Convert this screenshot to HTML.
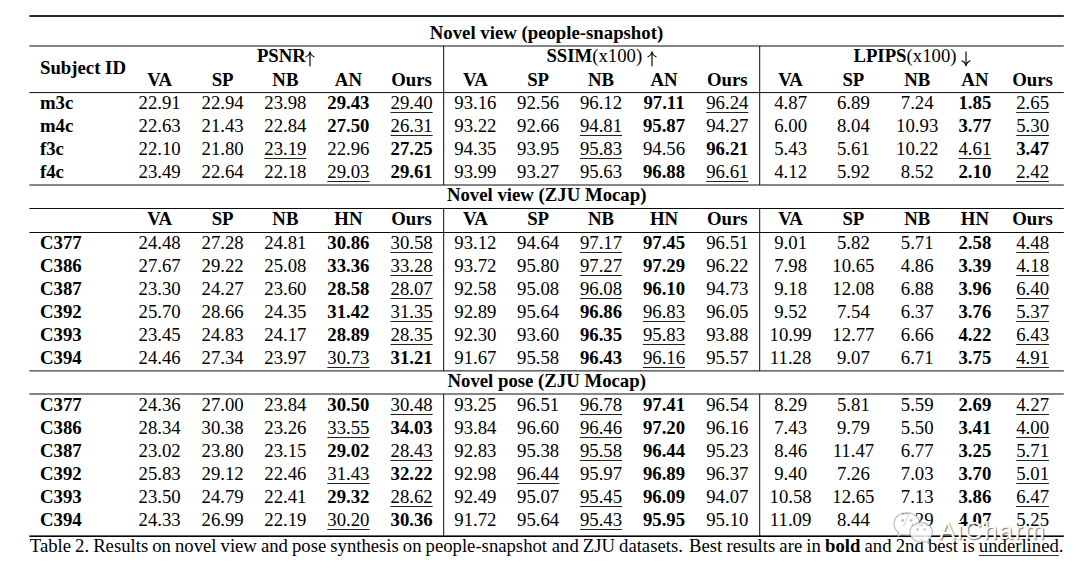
<!DOCTYPE html>
<html><head><meta charset="utf-8"><title>Table 2</title>
<style>
html,body{margin:0;padding:0;background:#fff;}
body{width:1080px;height:575px;position:relative;overflow:hidden;font-family:"Liberation Serif",serif;font-size:18.75px;line-height:23px;color:#000;}
.c{position:absolute;width:400px;text-align:center;white-space:nowrap;height:23px;}
.l{position:absolute;white-space:nowrap;height:23px;}
.b{font-weight:bold;}
.n{font-weight:normal;}
.u{text-decoration:underline;text-decoration-thickness:1.15px;text-underline-offset:2.9px;text-decoration-skip-ink:none;text-decoration-color:#222;}
.u2{text-decoration:underline;text-decoration-thickness:1.3px;text-underline-offset:2.7px;text-decoration-skip-ink:none;text-decoration-color:#333;}
.cap{font-size:18.7px;word-spacing:-0.62px;}
.h{position:absolute;background:#222;}
.a{position:absolute;overflow:visible;}
.rules{position:absolute;left:0;top:0;}
.wm{position:absolute;left:892px;top:510px;width:170px;height:38px;opacity:0.96;}
.wmi{position:absolute;left:0;top:0;}
.wmt{position:absolute;left:47px;top:6.3px;font-family:"Liberation Sans",sans-serif;font-size:24.6px;line-height:30px;color:#fff;text-shadow:1px 1px 1.2px rgba(40,40,40,0.7);letter-spacing:1.7px;}
</style></head><body>
<svg class="rules" width="1080" height="575" viewBox="0 0 1080 575" fill="#000"><rect x="29.4" y="15.18" width="1034.40" height="1.65"/><rect x="29.4" y="45.52" width="1034.40" height="0.95"/><rect x="29.4" y="92.12" width="1034.40" height="0.95"/><rect x="29.4" y="184.53" width="1034.40" height="0.95"/><rect x="29.4" y="208.03" width="1034.40" height="0.95"/><rect x="29.4" y="232.03" width="1034.40" height="0.95"/><rect x="29.4" y="370.42" width="1034.40" height="0.95"/><rect x="29.4" y="393.52" width="1034.40" height="0.95"/><rect x="29.4" y="535.40" width="1034.40" height="1.6"/><rect x="443.22" y="46.0" width="0.95" height="139.00"/><rect x="443.22" y="208.5" width="0.95" height="162.40"/><rect x="443.22" y="394.0" width="0.95" height="142.20"/><rect x="759.23" y="46.0" width="0.95" height="139.00"/><rect x="759.23" y="208.5" width="0.95" height="162.40"/><rect x="759.23" y="394.0" width="0.95" height="142.20"/></svg>
<div class="c b" style="left:346.50px;top:21px">Novel view (people-snapshot)</div>
<div class="c b" style="left:346.70px;top:183px">Novel view (ZJU Mocap)</div>
<div class="c b" style="left:346.70px;top:369px">Novel pose (ZJU Mocap)</div>
<div class="l b" style="left:40.00px;top:56px;">Subject ID</div>
<div class="l b" style="left:256.90px;top:44px;">PSNR</div>
<svg class="a" style="left:304.30px;top:51.60px" width="12" height="14.70" viewBox="0 0 12 14.70"><path d="M6.0 0.4 V14.299999999999995" stroke="#000" stroke-width="1.15" fill="none"/><path d="M2.0 4.8 Q5.1 3.4 6.0 0.3 Q6.9 3.4 10.0 4.8" stroke="#000" stroke-width="1.15" fill="none" stroke-linecap="round"/></svg>
<div class="l b" style="left:546.40px;top:44px;">SSIM<span class="n">(x100)</span></div>
<svg class="a" style="left:645.50px;top:51.60px" width="12" height="14.70" viewBox="0 0 12 14.70"><path d="M6.0 0.4 V14.299999999999995" stroke="#000" stroke-width="1.15" fill="none"/><path d="M2.0 4.8 Q5.1 3.4 6.0 0.3 Q6.9 3.4 10.0 4.8" stroke="#000" stroke-width="1.15" fill="none" stroke-linecap="round"/></svg>
<div class="l b" style="left:853.40px;top:44px;">LPIPS<span class="n">(x100)</span></div>
<svg class="a" style="left:960.00px;top:51.30px" width="12" height="14.60" viewBox="0 0 12 14.60"><path d="M6.0 0.4 V14.200000000000008" stroke="#000" stroke-width="1.15" fill="none"/><path d="M2.0 9.800000000000008 Q5.1 11.200000000000008 6.0 14.300000000000008 Q6.9 11.200000000000008 10.0 9.800000000000008" stroke="#000" stroke-width="1.15" fill="none" stroke-linecap="round"/></svg>
<div class="c b" style="left:-40.40px;top:68px">VA</div>
<div class="c b" style="left:22.60px;top:68px">SP</div>
<div class="c b" style="left:85.40px;top:68px">NB</div>
<div class="c b" style="left:148.40px;top:68px">AN</div>
<div class="c b" style="left:211.60px;top:68px">Ours</div>
<div class="c b" style="left:275.40px;top:68px">VA</div>
<div class="c b" style="left:338.10px;top:68px">SP</div>
<div class="c b" style="left:401.00px;top:68px">NB</div>
<div class="c b" style="left:464.00px;top:68px">AN</div>
<div class="c b" style="left:527.30px;top:68px">Ours</div>
<div class="c b" style="left:590.60px;top:68px">VA</div>
<div class="c b" style="left:653.40px;top:68px">SP</div>
<div class="c b" style="left:717.20px;top:68px">NB</div>
<div class="c b" style="left:774.90px;top:68px">AN</div>
<div class="c b" style="left:832.60px;top:68px">Ours</div>
<div class="c b" style="left:-40.40px;top:207px">VA</div>
<div class="c b" style="left:22.60px;top:207px">SP</div>
<div class="c b" style="left:85.40px;top:207px">NB</div>
<div class="c b" style="left:148.40px;top:207px">HN</div>
<div class="c b" style="left:211.60px;top:207px">Ours</div>
<div class="c b" style="left:275.40px;top:207px">VA</div>
<div class="c b" style="left:338.10px;top:207px">SP</div>
<div class="c b" style="left:401.00px;top:207px">NB</div>
<div class="c b" style="left:464.00px;top:207px">HN</div>
<div class="c b" style="left:527.30px;top:207px">Ours</div>
<div class="c b" style="left:590.60px;top:207px">VA</div>
<div class="c b" style="left:653.40px;top:207px">SP</div>
<div class="c b" style="left:717.20px;top:207px">NB</div>
<div class="c b" style="left:774.90px;top:207px">HN</div>
<div class="c b" style="left:832.60px;top:207px">Ours</div>
<div class="l b" style="left:40.00px;top:91px;">m3c</div>
<div class="c " style="left:-40.40px;top:91px">22.91</div>
<div class="c " style="left:22.60px;top:91px">22.94</div>
<div class="c " style="left:85.40px;top:91px">23.98</div>
<div class="c b" style="left:148.40px;top:91px">29.43</div>
<div class="c " style="left:211.60px;top:91px"><span class="u">29.40</span></div>
<div class="c " style="left:275.40px;top:91px">93.16</div>
<div class="c " style="left:338.10px;top:91px">92.56</div>
<div class="c " style="left:401.00px;top:91px">96.12</div>
<div class="c b" style="left:464.00px;top:91px">97.11</div>
<div class="c " style="left:527.30px;top:91px"><span class="u">96.24</span></div>
<div class="c " style="left:590.60px;top:91px">4.87</div>
<div class="c " style="left:653.40px;top:91px">6.89</div>
<div class="c " style="left:717.20px;top:91px">7.24</div>
<div class="c b" style="left:774.90px;top:91px">1.85</div>
<div class="c " style="left:832.60px;top:91px"><span class="u">2.65</span></div>
<div class="l b" style="left:40.00px;top:114px;">m4c</div>
<div class="c " style="left:-40.40px;top:114px">22.63</div>
<div class="c " style="left:22.60px;top:114px">21.43</div>
<div class="c " style="left:85.40px;top:114px">22.84</div>
<div class="c b" style="left:148.40px;top:114px">27.50</div>
<div class="c " style="left:211.60px;top:114px"><span class="u">26.31</span></div>
<div class="c " style="left:275.40px;top:114px">93.22</div>
<div class="c " style="left:338.10px;top:114px">92.66</div>
<div class="c " style="left:401.00px;top:114px"><span class="u">94.81</span></div>
<div class="c b" style="left:464.00px;top:114px">95.87</div>
<div class="c " style="left:527.30px;top:114px">94.27</div>
<div class="c " style="left:590.60px;top:114px">6.00</div>
<div class="c " style="left:653.40px;top:114px">8.04</div>
<div class="c " style="left:717.20px;top:114px">10.93</div>
<div class="c b" style="left:774.90px;top:114px">3.77</div>
<div class="c " style="left:832.60px;top:114px"><span class="u">5.30</span></div>
<div class="l b" style="left:40.00px;top:137px;">f3c</div>
<div class="c " style="left:-40.40px;top:137px">22.10</div>
<div class="c " style="left:22.60px;top:137px">21.80</div>
<div class="c " style="left:85.40px;top:137px"><span class="u">23.19</span></div>
<div class="c " style="left:148.40px;top:137px">22.96</div>
<div class="c b" style="left:211.60px;top:137px">27.25</div>
<div class="c " style="left:275.40px;top:137px">94.35</div>
<div class="c " style="left:338.10px;top:137px">93.95</div>
<div class="c " style="left:401.00px;top:137px"><span class="u">95.83</span></div>
<div class="c " style="left:464.00px;top:137px">94.56</div>
<div class="c b" style="left:527.30px;top:137px">96.21</div>
<div class="c " style="left:590.60px;top:137px">5.43</div>
<div class="c " style="left:653.40px;top:137px">5.61</div>
<div class="c " style="left:717.20px;top:137px">10.22</div>
<div class="c " style="left:774.90px;top:137px"><span class="u">4.61</span></div>
<div class="c b" style="left:832.60px;top:137px">3.47</div>
<div class="l b" style="left:40.00px;top:160px;">f4c</div>
<div class="c " style="left:-40.40px;top:160px">23.49</div>
<div class="c " style="left:22.60px;top:160px">22.64</div>
<div class="c " style="left:85.40px;top:160px">22.18</div>
<div class="c " style="left:148.40px;top:160px"><span class="u">29.03</span></div>
<div class="c b" style="left:211.60px;top:160px">29.61</div>
<div class="c " style="left:275.40px;top:160px">93.99</div>
<div class="c " style="left:338.10px;top:160px">93.27</div>
<div class="c " style="left:401.00px;top:160px">95.63</div>
<div class="c b" style="left:464.00px;top:160px">96.88</div>
<div class="c " style="left:527.30px;top:160px"><span class="u">96.61</span></div>
<div class="c " style="left:590.60px;top:160px">4.12</div>
<div class="c " style="left:653.40px;top:160px">5.92</div>
<div class="c " style="left:717.20px;top:160px">8.52</div>
<div class="c b" style="left:774.90px;top:160px">2.10</div>
<div class="c " style="left:832.60px;top:160px"><span class="u">2.42</span></div>
<div class="l b" style="left:40.00px;top:231px;">C377</div>
<div class="c " style="left:-40.40px;top:231px">24.48</div>
<div class="c " style="left:22.60px;top:231px">27.28</div>
<div class="c " style="left:85.40px;top:231px">24.81</div>
<div class="c b" style="left:148.40px;top:231px">30.86</div>
<div class="c " style="left:211.60px;top:231px"><span class="u">30.58</span></div>
<div class="c " style="left:275.40px;top:231px">93.12</div>
<div class="c " style="left:338.10px;top:231px">94.64</div>
<div class="c " style="left:401.00px;top:231px"><span class="u">97.17</span></div>
<div class="c b" style="left:464.00px;top:231px">97.45</div>
<div class="c " style="left:527.30px;top:231px">96.51</div>
<div class="c " style="left:590.60px;top:231px">9.01</div>
<div class="c " style="left:653.40px;top:231px">5.82</div>
<div class="c " style="left:717.20px;top:231px">5.71</div>
<div class="c b" style="left:774.90px;top:231px">2.58</div>
<div class="c " style="left:832.60px;top:231px"><span class="u">4.48</span></div>
<div class="l b" style="left:40.00px;top:254px;">C386</div>
<div class="c " style="left:-40.40px;top:254px">27.67</div>
<div class="c " style="left:22.60px;top:254px">29.22</div>
<div class="c " style="left:85.40px;top:254px">25.08</div>
<div class="c b" style="left:148.40px;top:254px">33.36</div>
<div class="c " style="left:211.60px;top:254px"><span class="u">33.28</span></div>
<div class="c " style="left:275.40px;top:254px">93.72</div>
<div class="c " style="left:338.10px;top:254px">95.80</div>
<div class="c " style="left:401.00px;top:254px"><span class="u">97.27</span></div>
<div class="c b" style="left:464.00px;top:254px">97.29</div>
<div class="c " style="left:527.30px;top:254px">96.22</div>
<div class="c " style="left:590.60px;top:254px">7.98</div>
<div class="c " style="left:653.40px;top:254px">10.65</div>
<div class="c " style="left:717.20px;top:254px">4.86</div>
<div class="c b" style="left:774.90px;top:254px">3.39</div>
<div class="c " style="left:832.60px;top:254px"><span class="u">4.18</span></div>
<div class="l b" style="left:40.00px;top:277px;">C387</div>
<div class="c " style="left:-40.40px;top:277px">23.30</div>
<div class="c " style="left:22.60px;top:277px">24.27</div>
<div class="c " style="left:85.40px;top:277px">23.60</div>
<div class="c b" style="left:148.40px;top:277px">28.58</div>
<div class="c " style="left:211.60px;top:277px"><span class="u">28.07</span></div>
<div class="c " style="left:275.40px;top:277px">92.58</div>
<div class="c " style="left:338.10px;top:277px">95.08</div>
<div class="c " style="left:401.00px;top:277px"><span class="u">96.08</span></div>
<div class="c b" style="left:464.00px;top:277px">96.10</div>
<div class="c " style="left:527.30px;top:277px">94.73</div>
<div class="c " style="left:590.60px;top:277px">9.18</div>
<div class="c " style="left:653.40px;top:277px">12.08</div>
<div class="c " style="left:717.20px;top:277px">6.88</div>
<div class="c b" style="left:774.90px;top:277px">3.96</div>
<div class="c " style="left:832.60px;top:277px"><span class="u">6.40</span></div>
<div class="l b" style="left:40.00px;top:300px;">C392</div>
<div class="c " style="left:-40.40px;top:300px">25.70</div>
<div class="c " style="left:22.60px;top:300px">28.66</div>
<div class="c " style="left:85.40px;top:300px">24.35</div>
<div class="c b" style="left:148.40px;top:300px">31.42</div>
<div class="c " style="left:211.60px;top:300px"><span class="u">31.35</span></div>
<div class="c " style="left:275.40px;top:300px">92.89</div>
<div class="c " style="left:338.10px;top:300px">95.64</div>
<div class="c b" style="left:401.00px;top:300px">96.86</div>
<div class="c " style="left:464.00px;top:300px"><span class="u">96.83</span></div>
<div class="c " style="left:527.30px;top:300px">96.05</div>
<div class="c " style="left:590.60px;top:300px">9.52</div>
<div class="c " style="left:653.40px;top:300px">7.54</div>
<div class="c " style="left:717.20px;top:300px">6.37</div>
<div class="c b" style="left:774.90px;top:300px">3.76</div>
<div class="c " style="left:832.60px;top:300px"><span class="u">5.37</span></div>
<div class="l b" style="left:40.00px;top:323px;">C393</div>
<div class="c " style="left:-40.40px;top:323px">23.45</div>
<div class="c " style="left:22.60px;top:323px">24.83</div>
<div class="c " style="left:85.40px;top:323px">24.17</div>
<div class="c b" style="left:148.40px;top:323px">28.89</div>
<div class="c " style="left:211.60px;top:323px"><span class="u">28.35</span></div>
<div class="c " style="left:275.40px;top:323px">92.30</div>
<div class="c " style="left:338.10px;top:323px">93.60</div>
<div class="c b" style="left:401.00px;top:323px">96.35</div>
<div class="c " style="left:464.00px;top:323px"><span class="u">95.83</span></div>
<div class="c " style="left:527.30px;top:323px">93.88</div>
<div class="c " style="left:590.60px;top:323px">10.99</div>
<div class="c " style="left:653.40px;top:323px">12.77</div>
<div class="c " style="left:717.20px;top:323px">6.66</div>
<div class="c b" style="left:774.90px;top:323px">4.22</div>
<div class="c " style="left:832.60px;top:323px"><span class="u">6.43</span></div>
<div class="l b" style="left:40.00px;top:346px;">C394</div>
<div class="c " style="left:-40.40px;top:346px">24.46</div>
<div class="c " style="left:22.60px;top:346px">27.34</div>
<div class="c " style="left:85.40px;top:346px">23.97</div>
<div class="c " style="left:148.40px;top:346px"><span class="u">30.73</span></div>
<div class="c b" style="left:211.60px;top:346px">31.21</div>
<div class="c " style="left:275.40px;top:346px">91.67</div>
<div class="c " style="left:338.10px;top:346px">95.58</div>
<div class="c b" style="left:401.00px;top:346px">96.43</div>
<div class="c " style="left:464.00px;top:346px"><span class="u">96.16</span></div>
<div class="c " style="left:527.30px;top:346px">95.57</div>
<div class="c " style="left:590.60px;top:346px">11.28</div>
<div class="c " style="left:653.40px;top:346px">9.07</div>
<div class="c " style="left:717.20px;top:346px">6.71</div>
<div class="c b" style="left:774.90px;top:346px">3.75</div>
<div class="c " style="left:832.60px;top:346px"><span class="u">4.91</span></div>
<div class="l b" style="left:40.00px;top:393px;">C377</div>
<div class="c " style="left:-40.40px;top:393px">24.36</div>
<div class="c " style="left:22.60px;top:393px">27.00</div>
<div class="c " style="left:85.40px;top:393px">23.84</div>
<div class="c b" style="left:148.40px;top:393px">30.50</div>
<div class="c " style="left:211.60px;top:393px"><span class="u">30.48</span></div>
<div class="c " style="left:275.40px;top:393px">93.25</div>
<div class="c " style="left:338.10px;top:393px">96.51</div>
<div class="c " style="left:401.00px;top:393px"><span class="u">96.78</span></div>
<div class="c b" style="left:464.00px;top:393px">97.41</div>
<div class="c " style="left:527.30px;top:393px">96.54</div>
<div class="c " style="left:590.60px;top:393px">8.29</div>
<div class="c " style="left:653.40px;top:393px">5.81</div>
<div class="c " style="left:717.20px;top:393px">5.59</div>
<div class="c b" style="left:774.90px;top:393px">2.69</div>
<div class="c " style="left:832.60px;top:393px"><span class="u">4.27</span></div>
<div class="l b" style="left:40.00px;top:416px;">C386</div>
<div class="c " style="left:-40.40px;top:416px">28.34</div>
<div class="c " style="left:22.60px;top:416px">30.38</div>
<div class="c " style="left:85.40px;top:416px">23.26</div>
<div class="c " style="left:148.40px;top:416px"><span class="u">33.55</span></div>
<div class="c b" style="left:211.60px;top:416px">34.03</div>
<div class="c " style="left:275.40px;top:416px">93.84</div>
<div class="c " style="left:338.10px;top:416px">96.60</div>
<div class="c " style="left:401.00px;top:416px"><span class="u">96.46</span></div>
<div class="c b" style="left:464.00px;top:416px">97.20</div>
<div class="c " style="left:527.30px;top:416px">96.16</div>
<div class="c " style="left:590.60px;top:416px">7.43</div>
<div class="c " style="left:653.40px;top:416px">9.79</div>
<div class="c " style="left:717.20px;top:416px">5.50</div>
<div class="c b" style="left:774.90px;top:416px">3.41</div>
<div class="c " style="left:832.60px;top:416px"><span class="u">4.00</span></div>
<div class="l b" style="left:40.00px;top:439px;">C387</div>
<div class="c " style="left:-40.40px;top:439px">23.02</div>
<div class="c " style="left:22.60px;top:439px">23.80</div>
<div class="c " style="left:85.40px;top:439px">23.15</div>
<div class="c b" style="left:148.40px;top:439px">29.02</div>
<div class="c " style="left:211.60px;top:439px"><span class="u">28.43</span></div>
<div class="c " style="left:275.40px;top:439px">92.83</div>
<div class="c " style="left:338.10px;top:439px">95.38</div>
<div class="c " style="left:401.00px;top:439px"><span class="u">95.58</span></div>
<div class="c b" style="left:464.00px;top:439px">96.44</div>
<div class="c " style="left:527.30px;top:439px">95.23</div>
<div class="c " style="left:590.60px;top:439px">8.46</div>
<div class="c " style="left:653.40px;top:439px">11.47</div>
<div class="c " style="left:717.20px;top:439px">6.77</div>
<div class="c b" style="left:774.90px;top:439px">3.25</div>
<div class="c " style="left:832.60px;top:439px"><span class="u">5.71</span></div>
<div class="l b" style="left:40.00px;top:462px;">C392</div>
<div class="c " style="left:-40.40px;top:462px">25.83</div>
<div class="c " style="left:22.60px;top:462px">29.12</div>
<div class="c " style="left:85.40px;top:462px">22.46</div>
<div class="c " style="left:148.40px;top:462px"><span class="u">31.43</span></div>
<div class="c b" style="left:211.60px;top:462px">32.22</div>
<div class="c " style="left:275.40px;top:462px">92.98</div>
<div class="c " style="left:338.10px;top:462px"><span class="u">96.44</span></div>
<div class="c " style="left:401.00px;top:462px">95.97</div>
<div class="c b" style="left:464.00px;top:462px">96.89</div>
<div class="c " style="left:527.30px;top:462px">96.37</div>
<div class="c " style="left:590.60px;top:462px">9.40</div>
<div class="c " style="left:653.40px;top:462px">7.26</div>
<div class="c " style="left:717.20px;top:462px">7.03</div>
<div class="c b" style="left:774.90px;top:462px">3.70</div>
<div class="c " style="left:832.60px;top:462px"><span class="u">5.01</span></div>
<div class="l b" style="left:40.00px;top:485px;">C393</div>
<div class="c " style="left:-40.40px;top:485px">23.50</div>
<div class="c " style="left:22.60px;top:485px">24.79</div>
<div class="c " style="left:85.40px;top:485px">22.41</div>
<div class="c b" style="left:148.40px;top:485px">29.32</div>
<div class="c " style="left:211.60px;top:485px"><span class="u">28.62</span></div>
<div class="c " style="left:275.40px;top:485px">92.49</div>
<div class="c " style="left:338.10px;top:485px">95.07</div>
<div class="c " style="left:401.00px;top:485px"><span class="u">95.45</span></div>
<div class="c b" style="left:464.00px;top:485px">96.09</div>
<div class="c " style="left:527.30px;top:485px">94.07</div>
<div class="c " style="left:590.60px;top:485px">10.58</div>
<div class="c " style="left:653.40px;top:485px">12.65</div>
<div class="c " style="left:717.20px;top:485px">7.13</div>
<div class="c b" style="left:774.90px;top:485px">3.86</div>
<div class="c " style="left:832.60px;top:485px"><span class="u">6.47</span></div>
<div class="l b" style="left:40.00px;top:508px;">C394</div>
<div class="c " style="left:-40.40px;top:508px">24.33</div>
<div class="c " style="left:22.60px;top:508px">26.99</div>
<div class="c " style="left:85.40px;top:508px">22.19</div>
<div class="c " style="left:148.40px;top:508px"><span class="u">30.20</span></div>
<div class="c b" style="left:211.60px;top:508px">30.36</div>
<div class="c " style="left:275.40px;top:508px">91.72</div>
<div class="c " style="left:338.10px;top:508px">95.64</div>
<div class="c " style="left:401.00px;top:508px"><span class="u">95.43</span></div>
<div class="c b" style="left:464.00px;top:508px">95.95</div>
<div class="c " style="left:527.30px;top:508px">95.10</div>
<div class="c " style="left:590.60px;top:508px">11.09</div>
<div class="c " style="left:653.40px;top:508px">8.44</div>
<div class="c " style="left:717.20px;top:508px">7.29</div>
<div class="c b" style="left:774.90px;top:508px">4.07</div>
<div class="c " style="left:832.60px;top:508px">5.25</div>
<div class="l cap" style="left:29.80px;top:534px;">Table 2. Results on novel view and pose synthesis on people-snapshot <span style="margin-left:0.7px">and</span> ZJU datasets. <span style="margin-left:2.1px;word-spacing:-0.5px">Best results are in <b>bold</b> and 2nd best is <span class="u2">underlined</span>.</span></div>
<div class="wm">
<svg class="wmi" width="45" height="37" viewBox="0 0 44 34" preserveAspectRatio="none">
 <g fill="rgba(255,255,255,0.86)" stroke="rgba(110,110,110,0.5)" stroke-width="1">
  <path d="M14.5 2.5 C7.3 2.5 2 7.2 2 12.8 C2 16 3.8 18.8 6.6 20.7 L5.4 24.6 L9.9 22.3 C11.3 22.8 12.9 23.1 14.5 23.1 C21.7 23.1 27 18.4 27 12.8 C27 7.2 21.7 2.5 14.5 2.5 Z"/>
  <path d="M28.5 11.5 C22.3 11.5 17.5 15.6 17.5 20.5 C17.5 25.4 22.3 29.5 28.5 29.5 C29.9 29.5 31.2 29.3 32.4 28.9 L36.2 30.9 L35.2 27.6 C37.8 25.9 39.5 23.4 39.5 20.5 C39.5 15.6 34.7 11.5 28.5 11.5 Z"/>
 </g>
 <g fill="rgba(150,150,150,0.55)"><circle cx="10.3" cy="9.6" r="1.5"/><circle cx="18.6" cy="9.6" r="1.5"/><circle cx="24.8" cy="18" r="1.3"/><circle cx="32" cy="18" r="1.3"/></g>
</svg><span class="wmt">AiCharm</span></div>
</body></html>
